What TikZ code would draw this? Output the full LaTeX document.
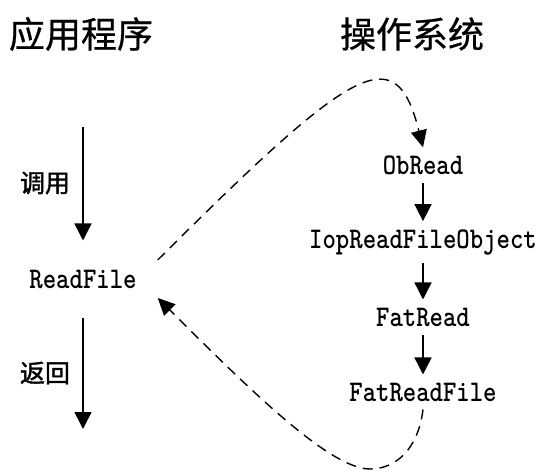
\documentclass[tikz,border=0pt]{standalone}
\usepackage{fontspec}
\newfontfamily\cjk[FakeBold=0.6]{Noto Sans CJK SC}
\newfontfamily\cjktag[FakeBold=1.6]{Noto Sans CJK SC}
\newfontfamily\codefont[FakeStretch=0.85, Extension=.otf]{lmmonolt10-bold}
\usetikzlibrary{arrows.meta}

\begin{document}
\begin{tikzpicture}[
    x=1pt, y=-1pt,
    title/.style={font=\cjk\fontsize{36}{40}\selectfont, inner sep=0pt},
    tag/.style={font=\cjktag\fontsize{25}{30}\selectfont, inner sep=0pt},
    fn/.style={font=\codefont\fontsize{30}{34}\selectfont, inner xsep=4pt, inner ysep=8pt},
    arrow/.style={-{Triangle[length=17pt, width=17pt]}, line width=1.5pt},
    jump/.style={-{Triangle[length=17pt, width=16pt]}, line width=1.4pt, dash pattern=on 10pt off 7pt}
]
\useasboundingbox (0,0) rectangle (536,471);

% =================== TITLES ===================
\node[title] (app) at (81,34) {应用程序};
\node[title] (os) at (412,34) {操作系统};

% =================== APPLICATION SIDE ===================
\node[fn, inner ysep=29pt] (rf) at (83,279) {ReadFile};

\coordinate (calltop) at (83,127);
\coordinate (retend) at (83,429);

\draw[arrow] (calltop) -- (rf.north);
\draw[arrow] (rf.south) -- (retend);

\node[tag] (call) at (45,183) {调用};
\node[tag] (ret) at (45,373) {返回};

% =================== OS SIDE ===================
\node[fn] (ob) at (423,165) {ObRead};
\node[fn] (iop) at (423,242) {IopReadFileObject};
\node[fn] (fr) at (423,317) {FatRead};
\node[fn] (frf) at (423,392) {FatReadFile};

\draw[arrow] (ob) -- (iop);
\draw[arrow] (iop) -- (fr);
\draw[arrow] (fr) -- (frf);

% =================== CALL / RETURN ===================
\draw[jump] ([shift={(17,-19)}]rf.east)
    .. controls (358,60) and (396,40) .. (ob.north);
\draw[jump] (frf.south)
    .. controls (418,450) and (395,469) .. (370,469)
    .. controls (330,469) and (250,390) .. ([shift={(17,19)}]rf.east);

\end{tikzpicture}
\end{document}
